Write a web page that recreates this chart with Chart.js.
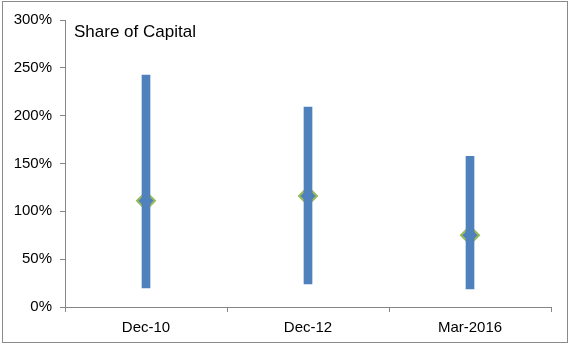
<!DOCTYPE html>
<html>
<head>
<meta charset="utf-8">
<script src="https://cdn.jsdelivr.net/npm/chart.js@4/dist/chart.umd.min.js"></script>
<style>
  html, body { margin: 0; padding: 0; background: #fff; }
  #wrap { position: relative; width: 568px; height: 344px; }
  #frame { position: absolute; left: 2px; top: 1px; width: 566px; height: 342px; box-sizing: border-box; border: 1px solid #8a8a8a; pointer-events: none; }
</style>
</head>
<body>
<div id="wrap">
  <canvas id="c" width="568" height="344"></canvas>
  <div id="frame"></div>
</div>
<script>
// Data (fractions: 1.0 = 100%)
const categories = ['Dec-10', 'Dec-12', 'Mar-2016'];
const lowValues = [0.20, 0.24, 0.19];
const highValues = [2.425, 2.09, 1.575];
const midValues = [1.11, 1.16, 0.75];
const yTicks = [0, 0.5, 1.0, 1.5, 2.0, 2.5, 3.0];
const chartTitle = 'Share of Capital';

const FONT = '"Liberation Sans", Arial, sans-serif';
const AXIS = '#868686';

const titlePlugin = {
  id: 'innerTitle',
  afterDraw(chart) {
    const ctx = chart.ctx;
    ctx.save();
    ctx.font = '17px ' + FONT;
    ctx.fillStyle = '#000';
    ctx.textAlign = 'left';
    ctx.textBaseline = 'alphabetic';
    ctx.fillText(chartTitle, chart.chartArea.left + 9, chart.chartArea.top + 17);
    ctx.restore();
  }
};

new Chart(document.getElementById('c'), {
  type: 'bar',
  data: {
    labels: categories,
    datasets: [
      {
        type: 'bar',
        data: categories.map((_, i) => [lowValues[i], highValues[i]]),
        backgroundColor: '#4F81BD',
        borderWidth: 0,
        barThickness: 8,
        order: 0
      },
      {
        type: 'line',
        data: midValues,
        showLine: false,
        pointStyle: 'rectRot',
        pointRadius: 9,
        pointBackgroundColor: '#4F81BD',
        pointBorderColor: '#9BBB59',
        pointBorderWidth: 2,
        order: 1
      }
    ]
  },
  options: {
    responsive: false,
    animation: false,
    layout: { padding: { left: 0, right: 17, top: 20, bottom: 0 } },
    plugins: { legend: { display: false }, tooltip: { enabled: false } },
    scales: {
      x: {
        type: 'category',
        offset: true,
        grid: { display: true, offset: true, drawOnChartArea: false, drawTicks: true, tickLength: 5, color: AXIS },
        border: { display: true, color: AXIS, width: 1 },
        ticks: { color: '#000', font: { family: FONT, size: 15 }, padding: 7, maxRotation: 0 },
        afterFit(scale) { scale.height = 37; }
      },
      y: {
        type: 'linear',
        min: 0,
        max: 3,
        afterBuildTicks(scale) { scale.ticks = yTicks.map(v => ({ value: v })); },
        grid: { display: true, drawOnChartArea: false, drawTicks: true, tickLength: 5, color: AXIS },
        border: { display: true, color: AXIS, width: 1 },
        ticks: {
          color: '#000',
          font: { family: FONT, size: 15 },
          padding: 8,
          callback: v => Math.round(v * 100) + '%'
        },
        afterFit(scale) { scale.width = 65; }
      }
    }
  },
  plugins: [titlePlugin]
});
</script>
</body>
</html>
